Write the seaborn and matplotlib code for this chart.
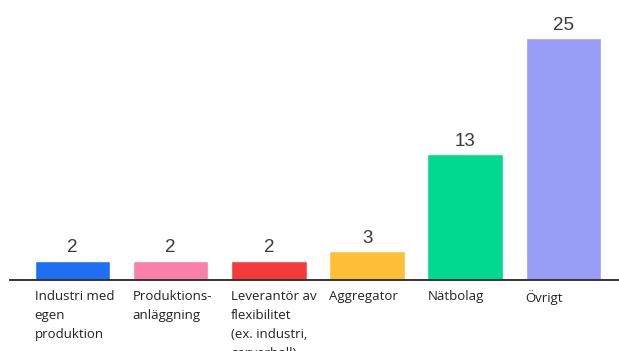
import matplotlib
matplotlib.use("Agg")
import matplotlib.pyplot as plt
import matplotlib.transforms as mtransforms
import seaborn as sns
import pandas as pd

categories = ["Industri med\negen\nproduktion", "Produktions-\nanläggning",
              "Leverantör av\nflexibilitet\n(ex. industri,\nserverhall)",
              "Aggregator", "Nätbolag", "Övrigt"]
values = [2, 2, 2, 3, 13, 25]
colors = ["#1f6ff2", "#fa80aa", "#f43b3b", "#fcbf35", "#00d98f", "#989df5"]

sns.set_theme(style="white")
plt.rcParams['font.family'] = ['Liberation Sans', 'DejaVu Sans']

df = pd.DataFrame({"cat": categories, "val": values})

fig = plt.figure(figsize=(6.19, 3.51), dpi=100)
ax = fig.add_axes([10 / 619, 71 / 351, 609 / 619, 280 / 351])
sns.barplot(data=df, x="cat", y="val", hue="cat", palette=colors,
            width=0.77, legend=False, ax=ax, saturation=1)

ax.set_xlim(-0.636, 5.565)
ax.set_ylim(0, 28.93)
for s in ["top", "right", "left"]:
    ax.spines[s].set_visible(False)
ax.spines["bottom"].set_color("#333333")
ax.spines["bottom"].set_linewidth(1.4)
ax.set_xticks([])
ax.set_yticks([])
ax.set_xlabel("")
ax.set_ylabel("")

for i, v in enumerate(values):
    ax.annotate(str(v), (i, v), xytext=(0, 3), textcoords="offset points",
                ha="center", va="bottom", fontsize=13.5, color="#3a3a3a")

trans = mtransforms.blended_transform_factory(ax.transData, ax.transAxes)
for i, c in enumerate(categories):
    t = ax.text(i - 0.385, 0, c, ha="left", va="top",
                fontsize=9.5, color="#222222", linespacing=1.6,
                fontfamily=["Open Sans", "DejaVu Sans"])
    t.set_transform(trans + mtransforms.ScaledTranslation(0, -10 / 100, fig.dpi_scale_trans))

fig.savefig("out.png", dpi=100)
